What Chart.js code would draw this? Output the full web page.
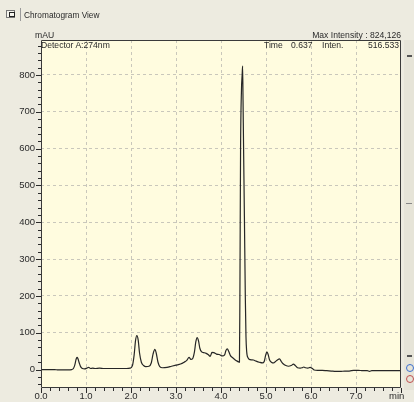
<!DOCTYPE html>
<html>
<head>
<meta charset="utf-8">
<script src="https://cdn.jsdelivr.net/npm/chart.js@4.4.0/dist/chart.umd.min.js"></script>
<style>
  html, body { margin: 0; padding: 0; }
  body { width: 414px; height: 402px; background: #edebe0; position: relative; overflow: hidden;
         font-family: "Liberation Sans", Arial, sans-serif; color: #2a2a2a; }
  #wrap { position: absolute; left: 0; top: 0; width: 414px; height: 402px; }
  canvas { position: absolute; left: 0; top: 0; }
  .t { position: absolute; font-size: 8.6px; line-height: 10px; white-space: nowrap; }
  .icon { position: absolute; left: 6px; top: 10px; width: 9px; height: 8px; border: 1px solid #777;
          background: #f6f5ee; box-sizing: border-box; }
  .icon:after { content: ""; position: absolute; left: 2px; top: 1px; width: 4px; height: 3px; border: 1px solid #222; }
  .sep { position: absolute; left: 20px; top: 8px; width: 1px; height: 13px; background: #9a9a9a; }
  .rbar { position: absolute; left: 404px; top: 40px; width: 10px; height: 350px; background: #e6e4d8; }
  .mark { position: absolute; background: #555; }
  .dot { position: absolute; width: 8px; height: 8px; border-radius: 50%; box-sizing: border-box; }
</style>
</head>
<body>
<div id="wrap"><canvas id="c" width="414" height="402"></canvas></div>

<div class="icon"></div>
<div class="sep"></div>
<div class="t" style="left:24px; top:10px; font-size:8.3px;">Chromatogram View</div>

<div class="t" style="left:35px; top:30px;">mAU</div>
<div class="t" style="right:13px; top:30px;">Max Intensity : 824,126</div>

<div class="t" style="left:41px; top:40px;">Detector A:274nm</div>
<div class="t" style="left:264px; top:40px;">Time</div>
<div class="t" style="left:291px; top:40px;">0.637</div>
<div class="t" style="left:322px; top:40px;">Inten.</div>
<div class="t" style="right:15px; top:40px;">516.533</div>

<div class="t" style="left:389px; top:391px; font-size:9.5px;">min</div>

<div class="rbar"></div>
<div class="mark" style="left:407px; top:55px; width:5px; height:2px;"></div>
<div class="mark" style="left:406px; top:203px; width:6px; height:1px; background:#888;"></div>
<div class="mark" style="left:407px; top:355px; width:5px; height:2px;"></div>
<div class="dot" style="left:406px; top:364px; border:1.5px solid #3c6fd0;"></div>
<div class="dot" style="left:406px; top:375px; border:1.5px solid #c05050;"></div>

<script>
// Retention time (min) and detector response (mAU) of the trace
const retentionTimes = [
  0.00, 0.10, 0.20, 0.30, 0.38, 0.50, 0.60, 0.68, 0.72, 0.75, 0.78, 0.80, 0.82, 0.85, 0.88, 0.92,
  0.97, 1.02, 1.06, 1.10, 1.15, 1.20, 1.30, 1.40, 1.50, 1.60, 1.70, 1.80, 1.90, 1.98,
  2.03, 2.07, 2.10, 2.13, 2.16, 2.19, 2.23, 2.28, 2.33, 2.40, 2.45, 2.49, 2.53, 2.56, 2.60, 2.64,
  2.70, 2.80, 2.90, 3.00, 3.10, 3.18, 3.24, 3.29, 3.33, 3.37, 3.41, 3.44, 3.47, 3.50, 3.53, 3.57,
  3.62, 3.67, 3.72, 3.76, 3.80, 3.84, 3.90, 3.96, 4.03, 4.08, 4.11, 4.14, 4.17, 4.21, 4.26, 4.31,
  4.36, 4.39, 4.41, 4.42, 4.435, 4.455, 4.47, 4.48, 4.49, 4.50, 4.52, 4.54, 4.555, 4.57, 4.60,
  4.65, 4.72, 4.78, 4.85, 4.92, 4.96, 4.99, 5.02, 5.05, 5.08, 5.12, 5.17, 5.21, 5.26, 5.30, 5.34,
  5.38, 5.44, 5.50, 5.56, 5.61, 5.65, 5.70, 5.76, 5.80, 5.84, 5.88, 5.93, 5.98, 6.03, 6.07, 6.15,
  6.25, 6.35, 6.45, 6.55, 6.65, 6.75, 6.85, 6.95, 7.05, 7.15, 7.25, 7.30, 7.35, 7.45, 7.55, 7.65,
  7.75, 7.85, 8.00
];
const intensities = [
  0, 0, 0, 0, -1, -1, -1, 0, 3, 12, 28, 33, 30, 18, 8, 3,
  2, 4, 6, 3, 4, 3, 4, 3, 3, 3, 3, 3, 3, 4,
  10, 40, 78, 92, 80, 45, 20, 11, 8, 9, 18, 42, 55, 45, 20, 8,
  5, 6, 9, 12, 15, 20, 25, 33, 28, 30, 48, 75, 87, 78, 58, 48,
  46, 44, 40, 36, 47, 46, 42, 41, 37, 40, 52, 56, 50, 38, 32, 27,
  23, 21, 20, 200, 600, 760, 800, 824, 730, 620, 417, 200, 90, 50, 32,
  27, 26, 23, 20, 18, 22, 38, 48, 40, 26, 20, 18, 22, 27, 29, 22,
  16, 11, 9, 11, 15, 11, 5, 4, 5, 7, 5, 4, 6, 3, -1, -2,
  -2, -3, -4, -5, -5, -4, -4, -2, -2, -3, -3, -5, -3, -3, -3, -3,
  -3, -3, -3
];

// Axis ticks
const timeTicks = [0, 1, 2, 3, 4, 5, 6, 7, 8];
const intensityTicks = [0, 100, 200, 300, 400, 500, 600, 700, 800];
const timeMinorStep = 0.2;
const intensityMinorStep = 20;

const points = retentionTimes.map((t, i) => ({ x: t, y: intensities[i] }));

const AXIS_FONT = { family: "'Liberation Sans', Arial, sans-serif", size: 9.5 };

// Plot background, frame and the major/minor tick marks along both axes
const framePlugin = {
  id: 'frame',
  beforeDraw(chart) {
    const { ctx, chartArea: a } = chart;
    ctx.save();
    ctx.fillStyle = '#fffcdf';
    ctx.fillRect(a.left, a.top, a.right - a.left, a.bottom - a.top);
    ctx.restore();
  },
  afterDraw(chart) {
    const { ctx, chartArea: a, scales } = chart;
    const xs = scales.x, ys = scales.y;
    ctx.save();
    ctx.strokeStyle = '#3a3a3a';
    ctx.lineWidth = 1;
    ctx.beginPath();
    ctx.moveTo(a.left + 0.5, a.top + 0.5);
    ctx.lineTo(a.right - 0.5, a.top + 0.5);
    ctx.lineTo(a.right - 0.5, a.bottom - 0.5);
    ctx.lineTo(a.left + 0.5, a.bottom - 0.5);
    ctx.closePath();
    ctx.stroke();

    ctx.strokeStyle = '#2a2a2a';
    ctx.beginPath();
    for (let v = -40; v <= ys.max; v += intensityMinorStep) {
      const py = Math.round(ys.getPixelForValue(v)) + 0.5;
      if (py < a.top + 2 || py > a.bottom - 1) continue;
      const len = (v % 100 === 0 && v >= 0) ? 5 : 3;
      ctx.moveTo(a.left, py);
      ctx.lineTo(a.left - len, py);
    }
    const n = Math.round((xs.max - xs.min) / timeMinorStep);
    for (let i = 0; i <= n; i++) {
      const v = xs.min + i * timeMinorStep;
      const px = Math.round(xs.getPixelForValue(v)) + 0.5;
      const len = (i % 5 === 0) ? 5 : 3;
      ctx.moveTo(px, a.bottom);
      ctx.lineTo(px, a.bottom + len);
    }
    ctx.stroke();
    ctx.restore();
  }
};

new Chart(document.getElementById('c'), {
  type: 'line',
  data: {
    datasets: [{
      data: points,
      borderColor: '#262626',
      borderWidth: 1.2,
      pointRadius: 0,
      cubicInterpolationMode: 'monotone',
      fill: false
    }]
  },
  options: {
    responsive: false,
    animation: false,
    devicePixelRatio: 1,
    layout: { padding: { top: 40, right: 13, left: 0, bottom: 0 } },
    plugins: { legend: { display: false }, tooltip: { enabled: false } },
    scales: {
      x: {
        type: 'linear',
        min: 0,
        max: 8,
        afterFit(scale) { scale.height = 14; },
        afterBuildTicks(scale) { scale.ticks = timeTicks.map(v => ({ value: v })); },
        ticks: {
          autoSkip: false,
          maxRotation: 0,
          padding: 3,
          color: '#2a2a2a',
          font: AXIS_FONT,
          callback: v => (v === 8 ? '' : v.toFixed(1))
        },
        grid: {
          drawTicks: false,
          color: ctx => (ctx.tick && ctx.tick.value > 0 && ctx.tick.value < 8) ? '#c9c7bb' : 'rgba(0,0,0,0)',
          lineWidth: 1
        },
        border: { display: false, dash: [3, 3] }
      },
      y: {
        type: 'linear',
        min: -50,
        max: 895,
        afterFit(scale) { scale.width = 41; },
        afterBuildTicks(scale) { scale.ticks = intensityTicks.map(v => ({ value: v })); },
        ticks: {
          autoSkip: false,
          padding: 6,
          color: '#2a2a2a',
          font: AXIS_FONT,
          callback: v => String(v)
        },
        grid: {
          drawTicks: false,
          color: ctx => (ctx.tick && ctx.tick.value > 0) ? '#c9c7bb' : 'rgba(0,0,0,0)',
          lineWidth: 1
        },
        border: { display: false, dash: [3, 3] }
      }
    }
  },
  plugins: [framePlugin]
});
</script>
</body>
</html>
